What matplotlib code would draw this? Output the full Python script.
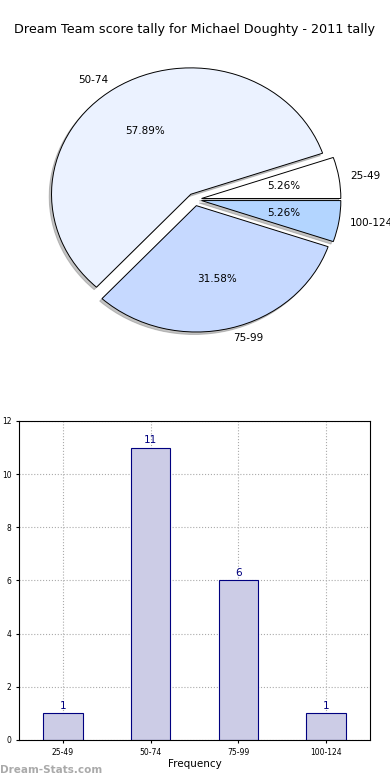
import matplotlib
matplotlib.use("Agg")
import matplotlib.pyplot as plt

title = "Dream Team score tally for Michael Doughty - 2011 tally"
categories = ["25-49", "50-74", "75-99", "100-124"]
counts = [1, 11, 6, 1]
pie_colors = ["#FFFFFF", "#EBF2FF", "#C6D9FF", "#B3D5FF"]
explode = [0.05, 0.05, 0.05, 0.05]

fig = plt.figure(figsize=(3.9, 7.8), dpi=100)
fig.text(0.5, 1 - 30 / 780, title, ha="center", va="center", fontsize=9.2)

# Pie chart
ax1 = fig.add_axes([0.0526, 0.5417, 0.893, 0.405])
wedges, texts, autotexts = ax1.pie(
    counts, labels=categories, colors=pie_colors, explode=explode,
    autopct="%.2f%%", shadow=dict(ox=-0.012, oy=-0.014, color="#888888"),
    startangle=0, labeldistance=1.08,
    wedgeprops=dict(edgecolor="black", linewidth=0.7),
    textprops=dict(fontsize=7.5))
ax1.set_aspect("auto")
ax1.set_xlim(-1.25, 1.25)
ax1.set_ylim(-1.25, 1.25)

# Bar chart
ax2 = fig.add_axes([0.0487, 0.0513, 0.9, 0.409])
x = list(range(len(categories)))
ax2.bar(x, counts, width=0.45, color="#CCCCE6", edgecolor="#000080",
        linewidth=0.8, zorder=2)
for xi, c in zip(x, counts):
    ax2.text(xi, c + 0.1, str(c), ha="center", va="bottom",
             color="#000080", fontsize=7.5)
ax2.set_xlim(-0.5, 3.5)
ax2.set_ylim(0, 12)
ax2.set_yticks(range(0, 13, 2))
ax2.set_xticks(x)
ax2.set_xticklabels(categories)
ax2.tick_params(labelsize=5.5, length=2)
ax2.grid(True, linestyle=":", color="#aaaaaa", linewidth=0.8, zorder=0)
ax2.set_axisbelow(True)
ax2.set_xlabel("Frequency", fontsize=7.5, labelpad=2)
ax2.set_ylabel("Score Range", fontsize=7.5)
ax2.yaxis.set_label_coords(-0.05, 0.5)

fig.text(0.0, 1 - 770 / 780, "Dream-Stats.com", ha="left", va="center",
         fontsize=7.5, color="#aaaaaa", fontweight="bold")

fig.savefig("out.png", dpi=100)
